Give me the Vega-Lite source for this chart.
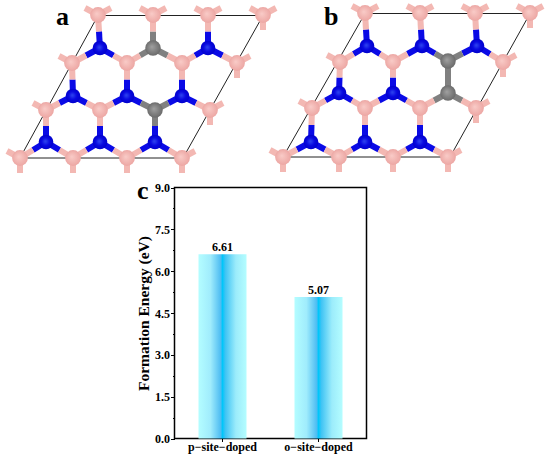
{"$schema":"https://vega.github.io/schema/vega-lite/v6.json","width":550,"height":457,"padding":0,"autosize":"none","background":"white","view":{"stroke":null},
"datasets":{
"atoms":[
{"panel":"a","x":98,"y":15,"el":"B"},{"panel":"a","x":153,"y":15,"el":"B"},{"panel":"a","x":208,"y":15,"el":"B"},{"panel":"a","x":263,"y":15,"el":"B"},
{"panel":"a","x":72,"y":63,"el":"B"},{"panel":"a","x":127,"y":63,"el":"B"},{"panel":"a","x":182,"y":63,"el":"B"},{"panel":"a","x":237,"y":63,"el":"B"},
{"panel":"a","x":46,"y":110,"el":"B"},{"panel":"a","x":100,"y":110,"el":"B"},{"panel":"a","x":155,"y":110,"el":"C"},{"panel":"a","x":210,"y":110,"el":"B"},
{"panel":"a","x":20,"y":158,"el":"B"},{"panel":"a","x":73,"y":158,"el":"B"},{"panel":"a","x":127,"y":158,"el":"B"},{"panel":"a","x":182,"y":158,"el":"B"},
{"panel":"a","x":100,"y":48,"el":"N"},{"panel":"a","x":153,"y":48,"el":"C"},{"panel":"a","x":208,"y":48,"el":"N"},
{"panel":"a","x":73,"y":96,"el":"N"},{"panel":"a","x":127,"y":96,"el":"N"},{"panel":"a","x":182,"y":96,"el":"N"},
{"panel":"a","x":46,"y":142,"el":"N"},{"panel":"a","x":100,"y":142,"el":"N"},{"panel":"a","x":155,"y":142,"el":"N"},
{"panel":"b","x":365,"y":13,"el":"B"},{"panel":"b","x":420,"y":13,"el":"B"},{"panel":"b","x":475,"y":13,"el":"B"},{"panel":"b","x":530,"y":13,"el":"B"},
{"panel":"b","x":340,"y":62,"el":"B"},{"panel":"b","x":393,"y":62,"el":"B"},{"panel":"b","x":448,"y":61,"el":"C"},{"panel":"b","x":503,"y":62,"el":"B"},
{"panel":"b","x":312,"y":108,"el":"B"},{"panel":"b","x":365,"y":108,"el":"B"},{"panel":"b","x":420,"y":108,"el":"B"},{"panel":"b","x":476,"y":108,"el":"B"},
{"panel":"b","x":283,"y":157,"el":"B"},{"panel":"b","x":339,"y":157,"el":"B"},{"panel":"b","x":393,"y":157,"el":"B"},{"panel":"b","x":448,"y":157,"el":"B"},
{"panel":"b","x":367,"y":46,"el":"N"},{"panel":"b","x":422,"y":46,"el":"N"},{"panel":"b","x":477,"y":46,"el":"N"},
{"panel":"b","x":339,"y":93,"el":"N"},{"panel":"b","x":393,"y":93,"el":"N"},{"panel":"b","x":448,"y":93,"el":"C"},
{"panel":"b","x":311,"y":142,"el":"N"},{"panel":"b","x":365,"y":142,"el":"N"},{"panel":"b","x":420,"y":142,"el":"N"}
],
"bonds":[
{"x":100,"y":48,"x2":99,"y2":31.5,"el":"N"},{"x":98,"y":15,"x2":99,"y2":31.5,"el":"B"},
{"x":100,"y":48,"x2":86,"y2":55.5,"el":"N"},{"x":72,"y":63,"x2":86,"y2":55.5,"el":"B"},
{"x":100,"y":48,"x2":113.5,"y2":55.5,"el":"N"},{"x":127,"y":63,"x2":113.5,"y2":55.5,"el":"B"},
{"x":153,"y":48,"x2":153,"y2":31.5,"el":"C"},{"x":153,"y":15,"x2":153,"y2":31.5,"el":"B"},
{"x":153,"y":48,"x2":140,"y2":55.5,"el":"C"},{"x":127,"y":63,"x2":140,"y2":55.5,"el":"B"},
{"x":153,"y":48,"x2":167.5,"y2":55.5,"el":"C"},{"x":182,"y":63,"x2":167.5,"y2":55.5,"el":"B"},
{"x":208,"y":48,"x2":208,"y2":31.5,"el":"N"},{"x":208,"y":15,"x2":208,"y2":31.5,"el":"B"},
{"x":208,"y":48,"x2":195,"y2":55.5,"el":"N"},{"x":182,"y":63,"x2":195,"y2":55.5,"el":"B"},
{"x":208,"y":48,"x2":222.5,"y2":55.5,"el":"N"},{"x":237,"y":63,"x2":222.5,"y2":55.5,"el":"B"},
{"x":73,"y":96,"x2":72.5,"y2":79.5,"el":"N"},{"x":72,"y":63,"x2":72.5,"y2":79.5,"el":"B"},
{"x":73,"y":96,"x2":59.5,"y2":103,"el":"N"},{"x":46,"y":110,"x2":59.5,"y2":103,"el":"B"},
{"x":73,"y":96,"x2":86.5,"y2":103,"el":"N"},{"x":100,"y":110,"x2":86.5,"y2":103,"el":"B"},
{"x":127,"y":96,"x2":127,"y2":79.5,"el":"N"},{"x":127,"y":63,"x2":127,"y2":79.5,"el":"B"},
{"x":127,"y":96,"x2":113.5,"y2":103,"el":"N"},{"x":100,"y":110,"x2":113.5,"y2":103,"el":"B"},
{"x":127,"y":96,"x2":141,"y2":103,"el":"N"},{"x":155,"y":110,"x2":141,"y2":103,"el":"C"},
{"x":182,"y":96,"x2":182,"y2":79.5,"el":"N"},{"x":182,"y":63,"x2":182,"y2":79.5,"el":"B"},
{"x":182,"y":96,"x2":168.5,"y2":103,"el":"N"},{"x":155,"y":110,"x2":168.5,"y2":103,"el":"C"},
{"x":182,"y":96,"x2":196,"y2":103,"el":"N"},{"x":210,"y":110,"x2":196,"y2":103,"el":"B"},
{"x":46,"y":142,"x2":46,"y2":126,"el":"N"},{"x":46,"y":110,"x2":46,"y2":126,"el":"B"},
{"x":46,"y":142,"x2":33,"y2":150,"el":"N"},{"x":20,"y":158,"x2":33,"y2":150,"el":"B"},
{"x":46,"y":142,"x2":59.5,"y2":150,"el":"N"},{"x":73,"y":158,"x2":59.5,"y2":150,"el":"B"},
{"x":100,"y":142,"x2":100,"y2":126,"el":"N"},{"x":100,"y":110,"x2":100,"y2":126,"el":"B"},
{"x":100,"y":142,"x2":86.5,"y2":150,"el":"N"},{"x":73,"y":158,"x2":86.5,"y2":150,"el":"B"},
{"x":100,"y":142,"x2":113.5,"y2":150,"el":"N"},{"x":127,"y":158,"x2":113.5,"y2":150,"el":"B"},
{"x":155,"y":142,"x2":155,"y2":126,"el":"N"},{"x":155,"y":110,"x2":155,"y2":126,"el":"C"},
{"x":155,"y":142,"x2":141,"y2":150,"el":"N"},{"x":127,"y":158,"x2":141,"y2":150,"el":"B"},
{"x":155,"y":142,"x2":168.5,"y2":150,"el":"N"},{"x":182,"y":158,"x2":168.5,"y2":150,"el":"B"},
{"x":98,"y":15,"x2":85,"y2":8,"el":"B"},{"x":98,"y":15,"x2":111,"y2":8,"el":"B"},{"x":153,"y":15,"x2":140,"y2":8,"el":"B"},{"x":153,"y":15,"x2":166,"y2":8,"el":"B"},
{"x":208,"y":15,"x2":195,"y2":8,"el":"B"},{"x":208,"y":15,"x2":221,"y2":8,"el":"B"},{"x":263,"y":15,"x2":250,"y2":8,"el":"B"},{"x":263,"y":15,"x2":276,"y2":8,"el":"B"},
{"x":72,"y":63,"x2":59,"y2":56,"el":"B"},{"x":46,"y":110,"x2":33,"y2":103,"el":"B"},{"x":20,"y":158,"x2":7,"y2":151,"el":"B"},
{"x":237,"y":63,"x2":250,"y2":56,"el":"B"},{"x":210,"y":110,"x2":223,"y2":103,"el":"B"},{"x":182,"y":158,"x2":195,"y2":151,"el":"B"},
{"x":263,"y":15,"x2":263,"y2":30,"el":"B"},{"x":237,"y":63,"x2":237,"y2":78,"el":"B"},{"x":210,"y":110,"x2":210,"y2":125,"el":"B"},
{"x":20,"y":158,"x2":20,"y2":173,"el":"B"},{"x":73,"y":158,"x2":73,"y2":173,"el":"B"},{"x":127,"y":158,"x2":127,"y2":173,"el":"B"},{"x":182,"y":158,"x2":182,"y2":173,"el":"B"},
{"x":367,"y":46,"x2":366,"y2":29.5,"el":"N"},{"x":365,"y":13,"x2":366,"y2":29.5,"el":"B"},
{"x":367,"y":46,"x2":353.5,"y2":54,"el":"N"},{"x":340,"y":62,"x2":353.5,"y2":54,"el":"B"},
{"x":367,"y":46,"x2":380,"y2":54,"el":"N"},{"x":393,"y":62,"x2":380,"y2":54,"el":"B"},
{"x":422,"y":46,"x2":421,"y2":29.5,"el":"N"},{"x":420,"y":13,"x2":421,"y2":29.5,"el":"B"},
{"x":422,"y":46,"x2":407.5,"y2":54,"el":"N"},{"x":393,"y":62,"x2":407.5,"y2":54,"el":"B"},
{"x":422,"y":46,"x2":435,"y2":53.5,"el":"N"},{"x":448,"y":61,"x2":435,"y2":53.5,"el":"C"},
{"x":477,"y":46,"x2":476,"y2":29.5,"el":"N"},{"x":475,"y":13,"x2":476,"y2":29.5,"el":"B"},
{"x":477,"y":46,"x2":462.5,"y2":53.5,"el":"N"},{"x":448,"y":61,"x2":462.5,"y2":53.5,"el":"C"},
{"x":477,"y":46,"x2":490,"y2":54,"el":"N"},{"x":503,"y":62,"x2":490,"y2":54,"el":"B"},
{"x":339,"y":93,"x2":339.5,"y2":77.5,"el":"N"},{"x":340,"y":62,"x2":339.5,"y2":77.5,"el":"B"},
{"x":339,"y":93,"x2":325.5,"y2":100.5,"el":"N"},{"x":312,"y":108,"x2":325.5,"y2":100.5,"el":"B"},
{"x":339,"y":93,"x2":352,"y2":100.5,"el":"N"},{"x":365,"y":108,"x2":352,"y2":100.5,"el":"B"},
{"x":393,"y":93,"x2":393,"y2":77.5,"el":"N"},{"x":393,"y":62,"x2":393,"y2":77.5,"el":"B"},
{"x":393,"y":93,"x2":379,"y2":100.5,"el":"N"},{"x":365,"y":108,"x2":379,"y2":100.5,"el":"B"},
{"x":393,"y":93,"x2":406.5,"y2":100.5,"el":"N"},{"x":420,"y":108,"x2":406.5,"y2":100.5,"el":"B"},
{"x":448,"y":93,"x2":448,"y2":61,"el":"C"},
{"x":448,"y":93,"x2":434,"y2":100.5,"el":"C"},{"x":420,"y":108,"x2":434,"y2":100.5,"el":"B"},
{"x":448,"y":93,"x2":462,"y2":100.5,"el":"C"},{"x":476,"y":108,"x2":462,"y2":100.5,"el":"B"},
{"x":311,"y":142,"x2":311.5,"y2":125,"el":"N"},{"x":312,"y":108,"x2":311.5,"y2":125,"el":"B"},
{"x":311,"y":142,"x2":297,"y2":149.5,"el":"N"},{"x":283,"y":157,"x2":297,"y2":149.5,"el":"B"},
{"x":311,"y":142,"x2":325,"y2":149.5,"el":"N"},{"x":339,"y":157,"x2":325,"y2":149.5,"el":"B"},
{"x":365,"y":142,"x2":365,"y2":125,"el":"N"},{"x":365,"y":108,"x2":365,"y2":125,"el":"B"},
{"x":365,"y":142,"x2":352,"y2":149.5,"el":"N"},{"x":339,"y":157,"x2":352,"y2":149.5,"el":"B"},
{"x":365,"y":142,"x2":379,"y2":149.5,"el":"N"},{"x":393,"y":157,"x2":379,"y2":149.5,"el":"B"},
{"x":420,"y":142,"x2":420,"y2":125,"el":"N"},{"x":420,"y":108,"x2":420,"y2":125,"el":"B"},
{"x":420,"y":142,"x2":406.5,"y2":149.5,"el":"N"},{"x":393,"y":157,"x2":406.5,"y2":149.5,"el":"B"},
{"x":420,"y":142,"x2":434,"y2":149.5,"el":"N"},{"x":448,"y":157,"x2":434,"y2":149.5,"el":"B"},
{"x":365,"y":13,"x2":352,"y2":6,"el":"B"},{"x":365,"y":13,"x2":378,"y2":6,"el":"B"},{"x":420,"y":13,"x2":407,"y2":6,"el":"B"},{"x":420,"y":13,"x2":433,"y2":6,"el":"B"},
{"x":475,"y":13,"x2":462,"y2":6,"el":"B"},{"x":475,"y":13,"x2":488,"y2":6,"el":"B"},{"x":530,"y":13,"x2":517,"y2":6,"el":"B"},{"x":530,"y":13,"x2":543,"y2":6,"el":"B"},
{"x":340,"y":62,"x2":327,"y2":55,"el":"B"},{"x":312,"y":108,"x2":299,"y2":101,"el":"B"},{"x":283,"y":157,"x2":270,"y2":150,"el":"B"},
{"x":503,"y":62,"x2":516,"y2":55,"el":"B"},{"x":476,"y":108,"x2":489,"y2":101,"el":"B"},{"x":448,"y":157,"x2":461,"y2":150,"el":"B"},
{"x":530,"y":13,"x2":530,"y2":28,"el":"B"},{"x":503,"y":62,"x2":503,"y2":77,"el":"B"},{"x":476,"y":108,"x2":476,"y2":123,"el":"B"},
{"x":283,"y":157,"x2":283,"y2":172,"el":"B"},{"x":339,"y":157,"x2":339,"y2":172,"el":"B"},{"x":393,"y":157,"x2":393,"y2":172,"el":"B"},{"x":448,"y":157,"x2":448,"y2":172,"el":"B"}
],
"cell":[
{"x":98,"y":15.5,"x2":263,"y2":15.5},{"x":263,"y":15.5,"x2":183,"y2":158},{"x":183,"y":158,"x2":20,"y2":158},{"x":20,"y":158,"x2":98,"y2":15.5},
{"x":365,"y":13.5,"x2":530,"y2":13.5},{"x":530,"y":13.5,"x2":450,"y2":157},{"x":450,"y":157,"x2":283,"y2":157},{"x":283,"y":157,"x2":365,"y2":13.5}
],
"letters":[{"x":56,"y":25,"t":"a"},{"x":324,"y":25,"t":"b"},{"x":137,"y":199,"t":"c"}],
"frame":[{"x":174.5,"y":187.5,"x2":366.5,"y2":438.5}],
"energy":[{"site":"p−site−doped","energy":6.61},{"site":"o−site−doped","energy":5.07}]
},
"resolve":{"scale":{"x":"independent","y":"independent"},"axis":{"x":"independent","y":"independent"}},
"layer":[
{"encoding":{
 "x":{"field":"x","type":"quantitative","scale":{"domain":[0,550],"range":[0,550],"nice":false,"zero":false},"axis":null},
 "y":{"field":"y","type":"quantitative","scale":{"domain":[0,457],"range":[0,457],"nice":false,"zero":false},"axis":null}},
 "layer":[
 {"data":{"name":"cell"},"mark":{"type":"rule","color":"#222222","strokeWidth":1},"encoding":{"x2":{"field":"x2"},"y2":{"field":"y2"}}},
 {"data":{"name":"frame"},"mark":{"type":"rect","fill":null,"stroke":"black","strokeWidth":1.5},"encoding":{"x2":{"field":"x2"},"y2":{"field":"y2"}}},
 {"data":{"name":"bonds"},"mark":{"type":"rule","strokeWidth":6},"encoding":{"x2":{"field":"x2"},"y2":{"field":"y2"},"color":{"field":"el","type":"nominal","scale":{"domain":["B","N","C"],"range":["#F3B8B3","#0A0AE6","#808080"]},"legend":null}}},
 {"data":{"name":"atoms"},"transform":[{"filter":"datum.el=='B'"}],"mark":{"type":"point","shape":"circle","filled":true,"size":250,"opacity":1,"fill":{"gradient":"radial","x1":0.42,"y1":0.42,"r1":0,"x2":0.5,"y2":0.5,"r2":0.55,"stops":[{"offset":0,"color":"#F9CBC7"},{"offset":1,"color":"#EBA3A0"}]}}},
 {"data":{"name":"atoms"},"transform":[{"filter":"datum.el=='N'"}],"mark":{"type":"point","shape":"circle","filled":true,"size":215,"opacity":1,"fill":{"gradient":"radial","x1":0.45,"y1":0.45,"r1":0,"x2":0.5,"y2":0.5,"r2":0.55,"stops":[{"offset":0,"color":"#3048F0"},{"offset":0.5,"color":"#0808E0"},{"offset":1,"color":"#0000C8"}]}}},
 {"data":{"name":"atoms"},"transform":[{"filter":"datum.el=='C'"}],"mark":{"type":"point","shape":"circle","filled":true,"size":240,"opacity":1,"fill":{"gradient":"radial","x1":0.42,"y1":0.42,"r1":0,"x2":0.5,"y2":0.5,"r2":0.55,"stops":[{"offset":0,"color":"#A0A0A0"},{"offset":1,"color":"#666666"}]}}},
 {"data":{"name":"letters"},"mark":{"type":"text","align":"left","baseline":"alphabetic","font":"Liberation Serif","fontWeight":"bold","fontSize":26,"color":"black"},"encoding":{"text":{"field":"t"}}}
 ]},
{"data":{"name":"energy"},
 "encoding":{
 "x":{"field":"site","type":"nominal","sort":null,"scale":{"type":"band","domain":["p−site−doped","o−site−doped"],"range":[174.5,366.5],"paddingInner":0.5,"paddingOuter":0.25},
  "axis":{"orient":"bottom","offset":-18.5,"title":null,"labelAngle":0,"labelFont":"Liberation Serif","labelFontWeight":"bold","labelFontSize":12,"labelColor":"black","labelPadding":0,"domain":false,"tickColor":"black","tickWidth":1,"tickSize":3,"grid":false}},
 "y":{"field":"energy","type":"quantitative","scale":{"domain":[0,9],"range":[438.5,187.5],"nice":false},
  "axis":{"orient":"left","offset":-174.5,"title":"Formation Energy (eV)","titleFont":"Liberation Serif","titleFontWeight":"bold","titleFontSize":15.5,"titleColor":"black","titlePadding":3,"labelFont":"Liberation Serif","labelFontWeight":"bold","labelFontSize":12,"labelColor":"black","labelPadding":1,"domain":false,"grid":false,"tickColor":"black","tickWidth":1,"values":[0,0.75,1.5,2.25,3,3.75,4.5,5.25,6,6.75,7.5,8.25,9],"labelExpr":"datum.value*100%150==0?format(datum.value,'.1f'):''","tickSize":{"condition":{"test":"datum.value*100%150==0","value":4},"value":2}}}},
 "layer":[
 {"mark":{"type":"bar","band":1,"fill":{"gradient":"linear","x1":0,"y1":0,"x2":1,"y2":0,"stops":[{"offset":0,"color":"#B4FDFF"},{"offset":0.25,"color":"#A0ECFC"},{"offset":0.46,"color":"#4FBDF2"},{"offset":0.5,"color":"#00C6FA"},{"offset":0.56,"color":"#40C4F4"},{"offset":0.78,"color":"#9CECFB"},{"offset":1,"color":"#B4FDFF"}]}}},
 {"mark":{"type":"text","baseline":"bottom","dy":-0.5,"font":"Liberation Serif","fontWeight":"bold","fontSize":12,"color":"black"},"encoding":{"text":{"field":"energy","type":"quantitative","format":".2f"}}},
 {"data":{"values":[{"mark":"between"}]},"mark":{"type":"rule","color":"black","strokeWidth":1},"encoding":{"x":{"datum":"p−site−doped","bandPosition":1.5},"y":{"datum":0},"y2":{"datum":-0.07}}}
 ]}
]}
